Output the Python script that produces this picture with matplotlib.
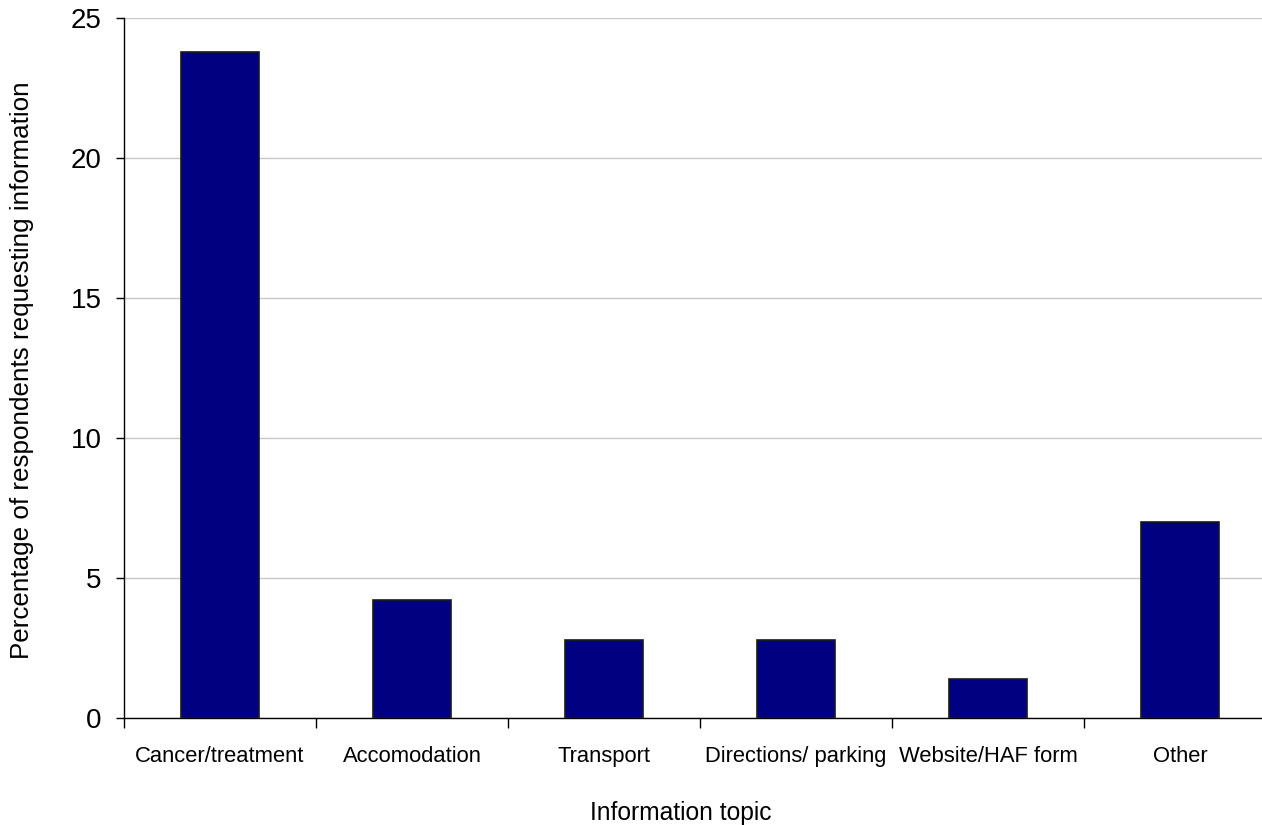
import matplotlib.pyplot as plt
import numpy as np

# data
topics = ["Cancer/treatment", "Accomodation", "Transport",
          "Directions/ parking", "Website/HAF form", "Other"]
percent = [23.8, 4.2, 2.8, 2.8, 1.4, 7.0]
yticks = [0, 5, 10, 15, 20, 25]

plt.rcParams['font.family'] = ['Liberation Sans', 'DejaVu Sans']

W, H = 1262, 825
fig = plt.figure(figsize=(W / 100, H / 100), dpi=100)
# axes spans past the right edge, like the original
left, right, top, bottom = 124, 1276, 18, 718
ax = fig.add_axes([left / W, 1 - bottom / H, (right - left) / W, (bottom - top) / H])

x = np.arange(len(topics))
ax.bar(x, percent, width=0.41, color='#000080', edgecolor='#1a1a1a', lw=1.2, zorder=3)

ax.set_xlim(-0.5, len(topics) - 0.5)
ax.set_ylim(0, 25)
ax.set_yticks(yticks)
ax.yaxis.grid(True, color='#c8c8c8', lw=1.0, zorder=0)
ax.tick_params(axis='y', labelsize=20, length=6, width=1, pad=10, direction='out')

# category labels centred, tick marks between categories
ax.set_xticks(x)
ax.set_xticklabels(topics, fontsize=15.8)
ax.tick_params(axis='x', which='major', length=0, pad=20)
ax.set_xticks(np.arange(len(topics) + 1) - 0.5, minor=True)
ax.tick_params(axis='x', which='minor', length=7, width=1, direction='out')

for s in ['top', 'right']:
    ax.spines[s].set_visible(False)
for s in ['left', 'bottom']:
    ax.spines[s].set_linewidth(1.0)

fig.text(22 / W, 1 - 370 / H, "Percentage of respondents requesting information",
         rotation=90, ha='center', va='center', fontsize=18.7)
fig.text(681 / W, 1 - 820 / H, "Information topic", ha='center', va='baseline', fontsize=17.7)

fig.savefig("out.png", dpi=100)
